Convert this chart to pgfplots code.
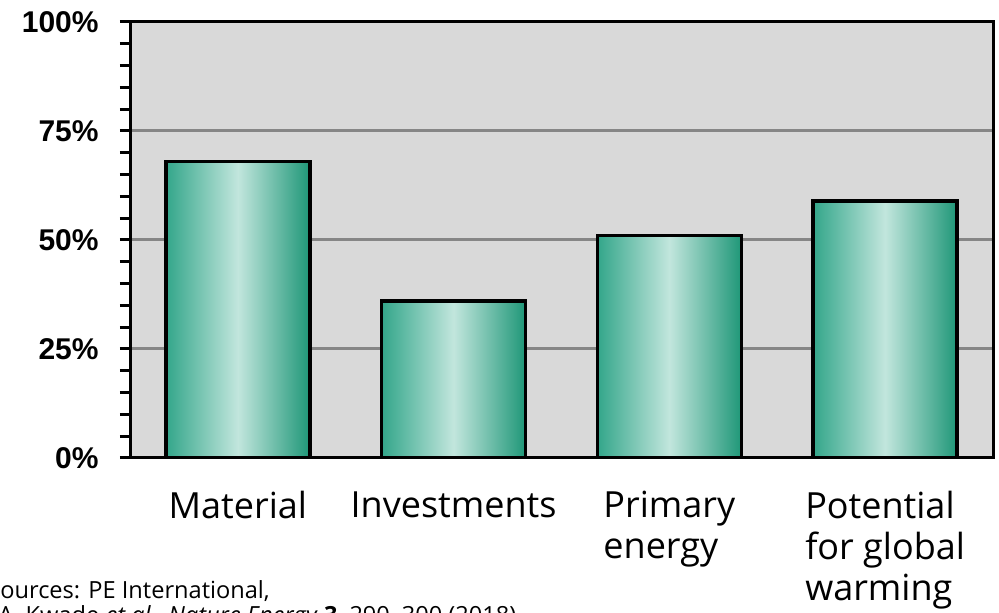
\documentclass[border=0pt]{standalone}
\usepackage{pgfplots}
\pgfplotsset{compat=1.18}
\usepackage{fontspec}
\setmainfont{Open Sans}
\newfontfamily\tickfont{Liberation Sans}

\definecolor{plotbg}{HTML}{D9D9D9}
\definecolor{gridgray}{HTML}{868686}
\definecolor{barL}{HTML}{33A68A}
\definecolor{barM}{HTML}{C2E6DD}
\definecolor{barR}{HTML}{1F9778}

% one bar per plot, so that each bar gets its own left-to-right shading
\pgfplotsset{greenbar/.style={ybar, bar shift=0pt, bar width=0.667,
  draw=black, line width=1.75pt,
  left color=barL, right color=barR, middle color=barM}}

\begin{document}
\begin{tikzpicture}
\begin{axis}[
  name=main,
  scale only axis,
  width=431.5pt, height=218pt,
  xmin=-0.5, xmax=3.5, ymin=0, ymax=100,
  axis background/.style={fill=plotbg},
  axis line style={black, line width=1.5pt},
  ytick={0,25,50,75,100},
  minor y tick num=4,
  ytick pos=left,
  yticklabel={\pgfmathprintnumber{\tick}\%},
  /pgf/number format/assume math mode=true,
  yticklabel style={font=\tickfont\bfseries\fontsize{15}{15}\selectfont,
    anchor=east, inner sep=0pt, xshift=-10.5pt},
  tick align=outside,
  major tick length=5pt, minor tick length=5pt,
  every tick/.style={black, line width=1.5pt},
  ymajorgrids,
  major grid style={gridgray, line width=1.5pt},
  xtick={0,1,2,3},
  xticklabels={Material, Investments, {Primary\\energy}, {Potential\\for global\\warming}},
  xticklabel style={font=\fontsize{18}{20.5}\selectfont, align=left,
    anchor=north, inner sep=0pt, yshift=-11.5pt},
  every x tick/.style={draw=none},
  xtick pos=bottom,
]
\addplot[greenbar] coordinates {(0,68)};
\addplot[greenbar] coordinates {(1,36)};
\addplot[greenbar] coordinates {(2,51)};
\addplot[greenbar] coordinates {(3,59)};
\end{axis}

% source note, partly cut off by the page edge
\node[anchor=base west, inner sep=0pt, font=\fontsize{11.8}{13.5}\selectfont]
  at ([shift={(-71.5pt,-70.5pt)}]main.south west) {Sources: PE International,};
\node[anchor=base west, inner sep=0pt, font=\fontsize{11.8}{13.5}\selectfont]
  at ([shift={(-66pt,-83pt)}]main.south west)
  {A. Kwade \textit{et al.}, \textit{Nature Energy} \textbf{3}, 290–300 (2018)};

\pgfresetboundingbox
\path[use as bounding box] ([shift={(-65pt,-77.5pt)}]main.south west)
  rectangle ([shift={(434.5pt,229pt)}]main.south west);
\end{tikzpicture}
\end{document}
